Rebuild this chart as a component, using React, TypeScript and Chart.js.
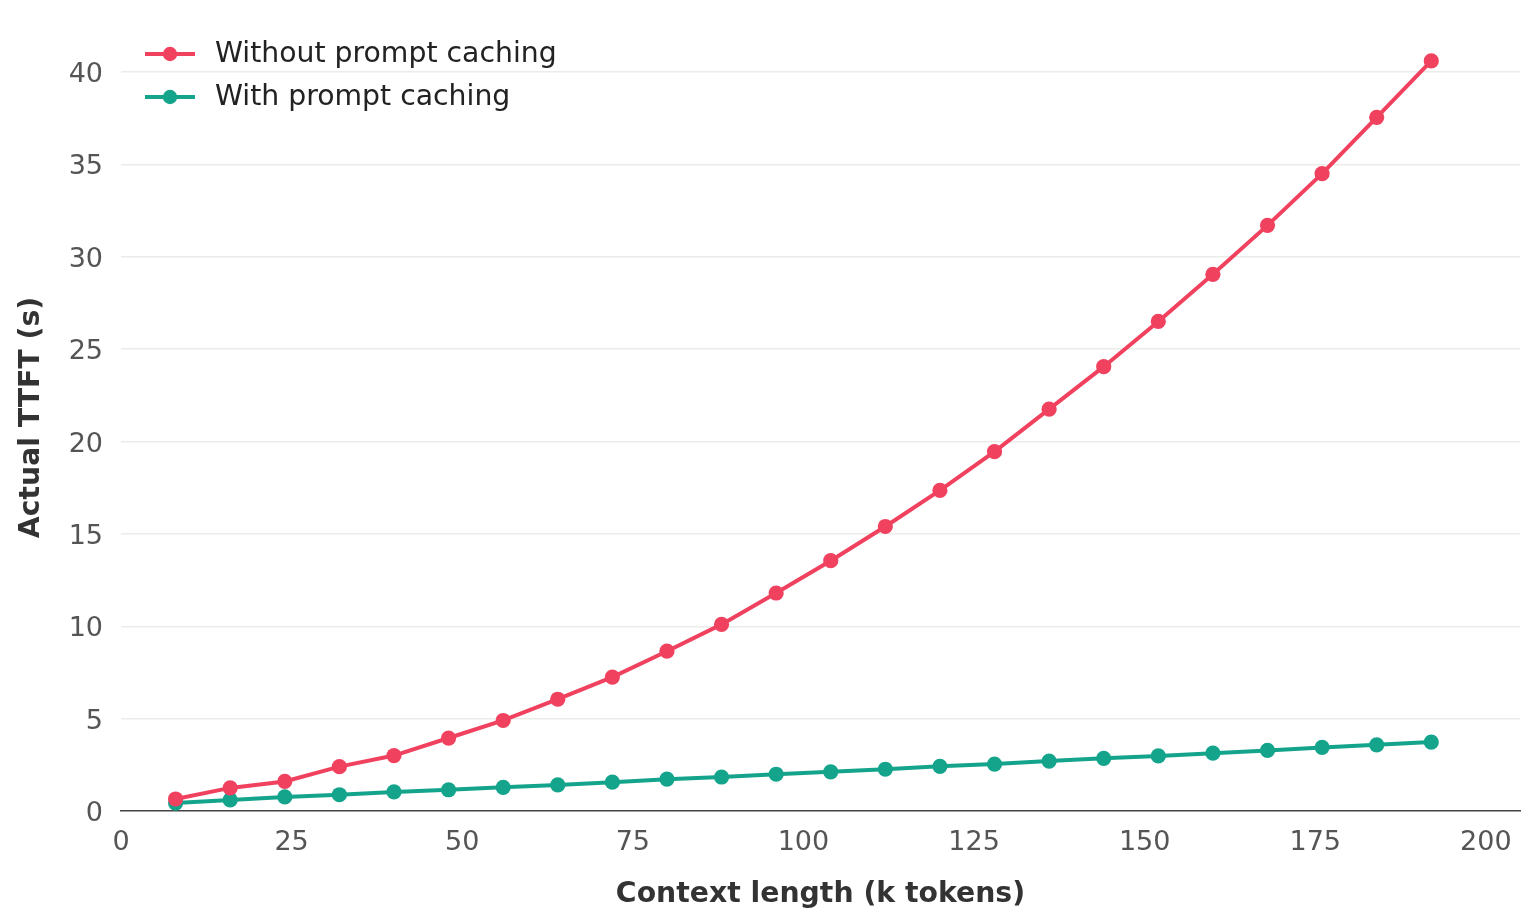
import React, { useEffect, useRef } from "react";
import { Chart, registerables } from "chart.js";

Chart.register(...registerables);

const contextK = [8, 16, 24, 32, 40, 48, 56, 64, 72, 80, 88, 96, 104, 112, 120, 128, 136, 144, 152, 160, 168, 176, 184, 192];
const withoutCaching = [0.65, 1.25, 1.6, 2.4, 3.0, 3.95, 4.9, 6.05, 7.25, 8.65, 10.1, 11.8, 13.55, 15.4, 17.35, 19.45, 21.75, 24.05, 26.5, 29.05, 31.7, 34.5, 37.55, 40.6];
const withCaching = [0.43, 0.6, 0.76, 0.88, 1.03, 1.15, 1.28, 1.41, 1.56, 1.72, 1.84, 1.99, 2.12, 2.26, 2.42, 2.54, 2.7, 2.85, 2.98, 3.13, 3.28, 3.44, 3.58, 3.73];
const seriesLabels = ["Without prompt caching", "With prompt caching"];
const seriesColors = ["#f0425f", "#14a48c"];
const xTitle = "Context length (k tokens)";
const yTitle = "Actual TTFT (s)";

const FONT = "'DejaVu Sans', sans-serif";

const legendPlugin = {
  id: "insideLegend",
  afterDraw(chart: any) {
    const ctx = chart.ctx;
    ctx.save();
    chart.data.datasets.forEach((ds: any, i: number) => {
      const y = 54 + i * 43;
      ctx.strokeStyle = ds.borderColor;
      ctx.lineWidth = 4;
      ctx.beginPath();
      ctx.moveTo(145, y);
      ctx.lineTo(195, y);
      ctx.stroke();
      ctx.fillStyle = ds.borderColor;
      ctx.beginPath();
      ctx.arc(170, y, 7.2, 0, Math.PI * 2);
      ctx.fill();
      ctx.fillStyle = "#222222";
      ctx.font = `28.3px ${FONT}`;
      ctx.textBaseline = "middle";
      ctx.textAlign = "left";
      ctx.fillText(ds.label, 215, y + 1);
    });
    ctx.restore();
  },
};

const zeroPad = (s: any) => {
  s.paddingTop = 0;
  s.paddingBottom = 0;
  s.paddingLeft = 0;
  s.paddingRight = 0;
};

export default function App() {
  const ref = useRef<HTMLCanvasElement>(null);
  useEffect(() => {
    if (!ref.current) return;
    const mk = (vals: number[]) => contextK.map((x, i) => ({ x, y: vals[i] }));
    const chart = new Chart(ref.current, {
      type: "line",
      data: {
        datasets: [withoutCaching, withCaching].map((vals, i) => ({
          label: seriesLabels[i],
          data: mk(vals),
          borderColor: seriesColors[i],
          backgroundColor: seriesColors[i],
          borderWidth: 4,
          pointRadius: 7.6,
          pointHoverRadius: 7.6,
          pointBorderWidth: 0,
          tension: 0,
        })),
      },
      options: {
        responsive: false,
        animation: false,
        layout: { padding: { top: 24, right: 16, left: 0, bottom: 0 } },
        plugins: { legend: { display: false }, tooltip: { enabled: false } },
        scales: {
          x: {
            type: "linear",
            min: 0,
            max: 205,
            afterFit: (s: any) => { s.height = 113; zeroPad(s); },
            ticks: { stepSize: 25, includeBounds: false, padding: 16, color: "#555555", font: { family: FONT, size: 27 } },
            grid: { drawOnChartArea: false, drawTicks: false },
            border: { display: true, color: "#444444", width: 1.5 },
            title: { display: true, text: xTitle, color: "#333333", font: { family: FONT, size: 28.3, weight: "bold" }, padding: { top: 0, bottom: 12 } },
          },
          y: {
            min: 0,
            max: 42.6,
            afterFit: (s: any) => { s.width = 121; zeroPad(s); },
            ticks: { stepSize: 5, includeBounds: false, padding: 18, labelOffset: 3, color: "#555555", font: { family: FONT, size: 27 } },
            grid: { color: (c: any) => (c.tick && c.tick.value === 0 ? "rgba(0,0,0,0)" : "#ebebe7"), lineWidth: 1.5, drawTicks: false },
            border: { display: false },
            title: { display: true, text: yTitle, color: "#333333", font: { family: FONT, size: 28.3, weight: "bold" }, padding: { top: 15, bottom: 0 } },
          },
        },
      },
      plugins: [legendPlugin],
    });
    return () => chart.destroy();
  }, []);
  return (
    <div style={{ position: "absolute", left: 0, top: 0, width: 1536, height: 924, background: "#ffffff" }}>
      <canvas ref={ref} width={1536} height={924} />
    </div>
  );
}
